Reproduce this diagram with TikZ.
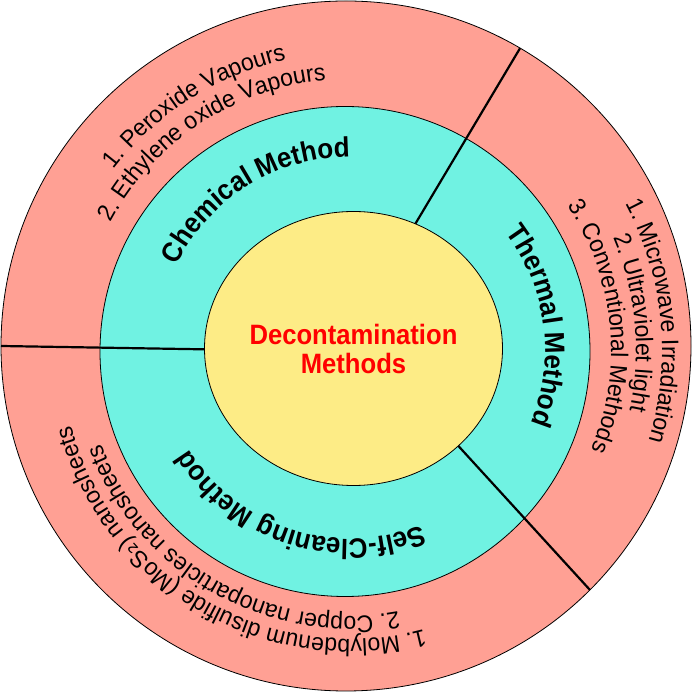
\documentclass[tikz,border=0pt]{standalone}
\usepackage{fontspec}
\setmainfont{Liberation Sans}
\newfontfamily\boldfam[FakeStretch=0.93]{Liberation Sans}
\newfontfamily\regfam[FakeStretch=0.96]{Liberation Sans}
\newfontfamily\corefam[FakeStretch=0.915]{Liberation Sans}
\newfontfamily\subfont[FakeStretch=0.96]{DejaVu Sans}
\usetikzlibrary{decorations.text}
\definecolor{ringpink}{RGB}{255,160,148}
\definecolor{ringcyan}{RGB}{112,242,226}
\definecolor{coreyellow}{RGB}{253,236,134}
\newcommand\fbold{\boldfam\bfseries\fontsize{28}{30}\selectfont}
\newcommand\fcore{\corefam\bfseries\fontsize{28}{30}\selectfont}
\newcommand\freg{\regfam\fontsize{24}{26}\selectfont}
\newcommand\fsub{\subfont\fontsize{23}{26}\selectfont}
\begin{document}
\begin{tikzpicture}[x=1pt,y=1pt,
  ring/.style={draw=black, line width=0.8pt},
  divider/.style={draw=black, line width=2.2pt},
  arctext/.style={decorate, decoration={text along path, text align=center, text={#1}}},
  coretext/.style={text=red, font=\fcore, anchor=base, inner sep=0pt}
]
\useasboundingbox (0,0) rectangle (693,693);
\fill[white] (0,0) rectangle (693,693);
% rings
\path[ring, fill=ringpink] (346,347) circle[radius=345pt];
\path[ring, fill=ringcyan] (345,341.5) circle[radius=245pt];
% dividers
\coordinate (l1a) at (520,644.7);
\coordinate (l1b) at (413.5,466.1);
\coordinate (l2a) at (1,347);
\coordinate (l2b) at (208,343.6);
\coordinate (l3a) at (456.3,249.3);
\coordinate (l3b) at (590,103);
\draw[divider] (l1a) -- (l1b);
\draw[divider] (l2a) -- (l2b);
\draw[divider] (l3a) -- (l3b);
% core
\path[ring, fill=coreyellow] (353.5,344.5) ellipse[x radius=149pt, y radius=137pt];
\node[coretext] (dec1) at (353.5,348) {Decontamination};
\node[coretext] (dec2) at (353.5,319.7) {Methods};
% ring labels
\begin{scope}[shift={(350,343)}]
\path[arctext={|\fbold|Chemical Method}] (212:193pt) arc[start angle=212, end angle=32, radius=193pt];
\path[arctext={|\fbold|Thermal Method}] (97.5:195pt) arc[start angle=97.5, end angle=-82.5, radius=195pt];
\path[arctext={|\fbold|Self-Cleaning Method}] (-18:189pt) arc[start angle=-18, end angle=-198, radius=189pt];
% outer texts
\path[arctext={|\freg|1. Peroxide Vapours}] (212.5:297pt) arc[start angle=212.5, end angle=32.5, radius=297pt];
\path[arctext={|\freg|2. Ethylene oxide Vapours}] (213.5:271pt) arc[start angle=213.5, end angle=33.5, radius=271pt];
\path[arctext={|\freg|1. Microwave Irradiation}] (95.5:312pt) arc[start angle=95.5, end angle=-84.5, radius=312pt];
\path[arctext={|\freg|2. Ultraviolet light}] (95.5:286pt) arc[start angle=95.5, end angle=-84.5, radius=286pt];
\path[arctext={|\freg|3. Conventional Methods}] (95.5:261pt) arc[start angle=95.5, end angle=-84.5, radius=261pt];
\path[arctext={|\freg|1. Molybdenum disulfide (MoS|\fsub|₂|\freg|) nanosheets}] (-30:289pt) arc[start angle=-30, end angle=-210, radius=289pt];
\path[arctext={|\freg|2. Copper nanoparticles nanosheets}] (-29.4:266pt) arc[start angle=-29.4, end angle=-209.4, radius=266pt];
\end{scope}
\end{tikzpicture}
\end{document}
